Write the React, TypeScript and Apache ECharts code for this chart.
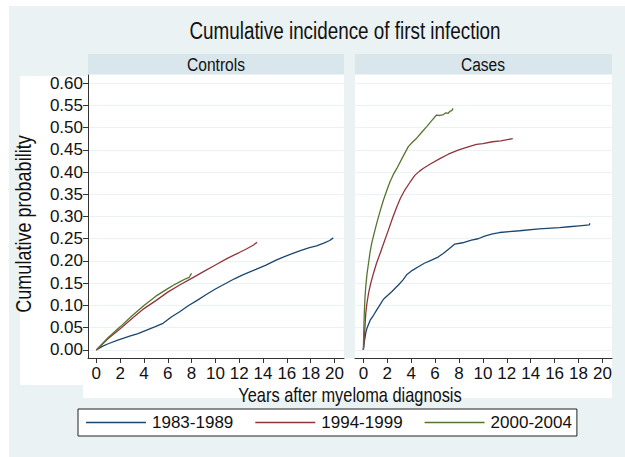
import React, { useEffect, useRef } from "react";
import * as echarts from "echarts";

const titleText = "Cumulative incidence of first infection";
const panelNames = ["Controls", "Cases"];
const periods = ["1983-1989", "1994-1999", "2000-2004"];
const periodColors = ["#1a476f", "#90353b", "#55752f"];
const xTicks = [0, 2, 4, 6, 8, 10, 12, 14, 16, 18, 20];
const yTicks = [0, 0.05, 0.1, 0.15, 0.2, 0.25, 0.3, 0.35, 0.4, 0.45, 0.5, 0.55, 0.6];
const xTitle = "Years after myeloma diagnosis";
const yTitle = "Cumulative probability";

// Controls
const ctrl8389T = [0, 0.5, 1, 1.8, 2.8, 3.5, 4.9, 5.6, 6.3, 7, 7.75, 8.5, 9.2, 10, 10.9, 11.6, 12.3, 13.4, 14.2, 15.1, 15.8, 16.5, 17.2, 17.9, 18.5, 19.1, 19.6, 19.9];
const ctrl8389P = [0, 0.008, 0.014, 0.022, 0.031, 0.037, 0.052, 0.06, 0.074, 0.086, 0.1, 0.112, 0.124, 0.137, 0.15, 0.16, 0.169, 0.181, 0.19, 0.202, 0.21, 0.217, 0.224, 0.23, 0.234, 0.24, 0.246, 0.252];
const ctrl9499T = [0, 0.5, 1, 2, 3, 4, 5, 6, 7, 8, 9, 10, 11, 12, 12.6, 13.2, 13.5];
const ctrl9499P = [0, 0.013, 0.026, 0.048, 0.071, 0.093, 0.111, 0.13, 0.146, 0.161, 0.176, 0.191, 0.206, 0.219, 0.227, 0.236, 0.242];
const ctrl0004T = [0, 0.5, 1, 2, 3, 4, 5, 6, 6.5, 7, 7.5, 7.8, 7.9, 8.0];
const ctrl0004P = [0, 0.014, 0.028, 0.052, 0.077, 0.1, 0.121, 0.138, 0.146, 0.153, 0.16, 0.163, 0.168, 0.172];

// Cases
const case8389T = [0, 0.05, 0.1, 0.2, 0.3, 0.57, 0.85, 1.12, 1.4, 1.68, 2.0, 2.37, 2.93, 3.3, 3.62, 4.1, 4.6, 5.1, 5.7, 6.2, 6.68, 7.2, 7.65, 8.3, 9.04, 9.6, 10.15, 10.8, 11.4, 12.2, 13.07, 14.7, 16.4, 17.2, 18.07, 18.9, 18.95];
const case8389P = [0, 0.012, 0.022, 0.038, 0.049, 0.067, 0.078, 0.09, 0.102, 0.114, 0.122, 0.131, 0.146, 0.157, 0.169, 0.179, 0.187, 0.195, 0.202, 0.208, 0.217, 0.228, 0.238, 0.241, 0.247, 0.25, 0.256, 0.261, 0.264, 0.266, 0.268, 0.272, 0.275, 0.277, 0.279, 0.281, 0.285];
const case9499T = [0, 0.05, 0.1, 0.2, 0.3, 0.43, 0.6, 0.84, 1.1, 1.4, 1.75, 2.1, 2.45, 2.8, 3.1, 3.48, 3.9, 4.32, 4.7, 5.0, 5.6, 6.4, 7.1, 7.93, 8.5, 9.46, 10, 10.8, 11.5, 12.5];
const case9499P = [0, 0.02, 0.037, 0.082, 0.105, 0.127, 0.148, 0.172, 0.195, 0.217, 0.244, 0.27, 0.297, 0.322, 0.341, 0.36, 0.377, 0.393, 0.402, 0.408, 0.418, 0.43, 0.44, 0.449, 0.454, 0.462, 0.464, 0.468, 0.47, 0.475];
const case0004T = [0, 0.03, 0.08, 0.14, 0.2, 0.3, 0.43, 0.55, 0.7, 0.9, 1.12, 1.4, 1.68, 1.95, 2.23, 2.5, 2.8, 3.3, 3.76, 4.1, 4.46, 4.9, 5.3, 5.7, 6.12, 6.4, 6.7, 6.9, 7.1, 7.25, 7.4, 7.5];
const case0004P = [0, 0.04, 0.085, 0.12, 0.142, 0.17, 0.195, 0.218, 0.24, 0.262, 0.285, 0.312, 0.337, 0.358, 0.378, 0.394, 0.408, 0.434, 0.457, 0.467, 0.476, 0.49, 0.502, 0.515, 0.528, 0.527, 0.529, 0.533, 0.532, 0.537, 0.538, 0.543];

const FONT = "'Liberation Sans', Arial, sans-serif";
const NARROW = 0.82;
const BG = "#eaf2f3";
const STRIP = "#d9e6eb";
const AXIS = "#333333";
const INK = "#111111";

const zip = (t: number[], p: number[]) => t.map((v, i) => [v, p[i]]);

export default function App() {
  const ref = useRef<HTMLDivElement>(null);
  useEffect(() => {
    document.body.style.margin = "0";
    if (!ref.current) return;
    const chart = echarts.init(ref.current, null, { renderer: "svg" });

    const panelData = [
      [zip(ctrl8389T, ctrl8389P), zip(ctrl9499T, ctrl9499P), zip(ctrl0004T, ctrl0004P)],
      [zip(case8389T, case8389P), zip(case9499T, case9499P), zip(case0004T, case0004P)],
    ];

    const grids = [
      { left: 88, width: 256, top: 75, height: 283 },
      { left: 355, width: 257, top: 75, height: 283 },
    ];

    const xAxes = grids.map((_, gi) => ({
      type: "value",
      gridIndex: gi,
      min: -0.7,
      max: 20.8,
      axisLine: { show: true, onZero: false, lineStyle: { color: AXIS, width: 1 } },
      axisTick: { show: true, customValues: xTicks, length: 5, lineStyle: { color: AXIS } },
      axisLabel: { show: true, customValues: xTicks, fontSize: 17, fontFamily: FONT, color: INK, margin: 7 },
      splitLine: { show: false },
    }));

    const yAxes = grids.map((_, gi) => ({
      type: "value",
      gridIndex: gi,
      min: -0.018,
      max: 0.618,
      axisLine: { show: gi === 0, onZero: false, lineStyle: { color: AXIS, width: 1 } },
      axisTick: { show: gi === 0, customValues: yTicks, length: 5, lineStyle: { color: AXIS } },
      axisLabel: {
        show: gi === 0,
        customValues: yTicks,
        fontSize: 17,
        fontFamily: FONT,
        color: INK,
        margin: 5,
        formatter: (v: number) => v.toFixed(2),
      },
      splitLine: { show: true, lineStyle: { color: BG, width: 1.2 } },
    }));

    const series: any[] = [];
    panelData.forEach((sets, gi) => {
      sets.forEach((d, si) => {
        series.push({
          type: "line",
          name: periods[si],
          xAxisIndex: gi,
          yAxisIndex: gi,
          data: d,
          symbol: "none",
          smooth: false,
          z: 3,
          lineStyle: { color: periodColors[si], width: 1.3 },
          itemStyle: { color: periodColors[si] },
        });
      });
    });

    const textEl = (text: string, x: number, y: number, size: number, extra: any = {}) => ({
      type: "text",
      z: 5,
      x,
      y,
      scaleX: NARROW,
      ...extra,
      style: { text, fontSize: size, fontFamily: FONT, fill: INK, textAlign: "center", textVerticalAlign: "middle" },
    });

    const option: any = {
      animation: false,
      backgroundColor: "#ffffff",
      grid: grids.map((g) => ({ ...g, containLabel: false, show: false })),
      xAxis: xAxes,
      yAxis: yAxes,
      legend: {
        data: periods,
        left: 78,
        top: 409,
        width: 560,
        padding: [5, 5, 5, 8],
        itemGap: 22,
        itemWidth: 60,
        itemHeight: 1.6,
        icon: "rect",
        backgroundColor: "#ffffff",
        borderColor: "#222",
        borderWidth: 1,
        borderRadius: 0,
        textStyle: { fontSize: 17, fontFamily: FONT, color: INK, padding: [0, 0, 0, 1] },
      },
      graphic: [
        { type: "rect", z: -10, silent: true, shape: { x: 9, y: 6, width: 616, height: 451 }, style: { fill: BG } },
        { type: "rect", z: -9, silent: true, shape: { x: 20, y: 76, width: 68, height: 309 }, style: { fill: "#ffffff" } },
        { type: "rect", z: -9, silent: true, shape: { x: 83, y: 358, width: 529, height: 40 }, style: { fill: "#ffffff" } },
        { type: "rect", z: -9, silent: true, shape: { x: 88, y: 75, width: 256, height: 283 }, style: { fill: "#ffffff" } },
        { type: "rect", z: -9, silent: true, shape: { x: 355, y: 75, width: 257, height: 283 }, style: { fill: "#ffffff" } },
        { type: "rect", z: -9, silent: true, shape: { x: 88, y: 54, width: 256, height: 20 }, style: { fill: STRIP } },
        { type: "rect", z: -9, silent: true, shape: { x: 355, y: 54, width: 257, height: 20 }, style: { fill: STRIP } },
        textEl(panelNames[0], 216, 64, 19),
        textEl(panelNames[1], 483, 64, 19),
        textEl(titleText, 345, 31, 23),
        textEl(xTitle, 350, 395, 20),
        textEl(yTitle, 23, 224, 22, { rotation: Math.PI / 2 }),
      ],
      series,
    };
    chart.setOption(option);
    return () => chart.dispose();
  }, []);
  return <div ref={ref} style={{ width: 625, height: 457 }} />;
}
